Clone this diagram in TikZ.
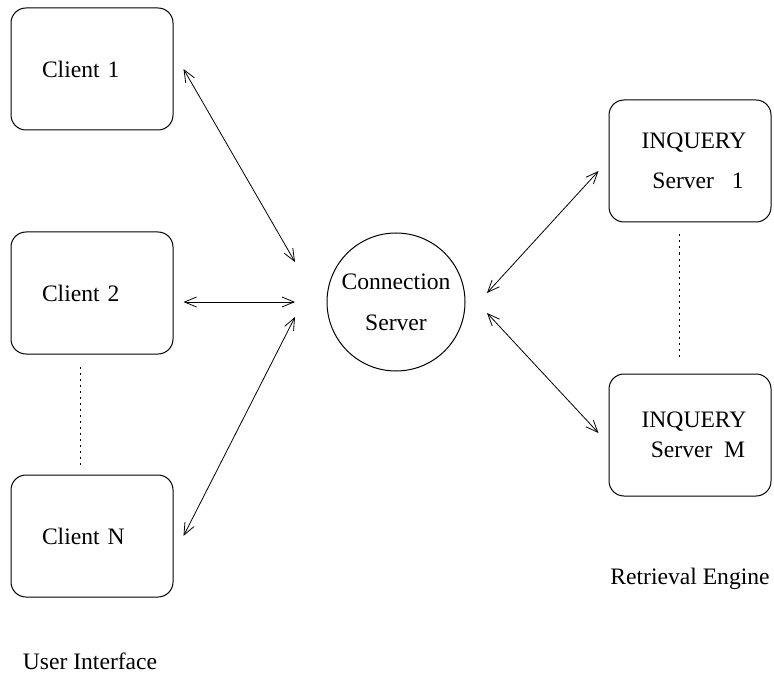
\documentclass[tikz,border=0pt]{standalone}
\usepackage{fontspec}
\setmainfont{Liberation Serif}
\usetikzlibrary{arrows.meta}

\begin{document}
\begin{tikzpicture}[
x=0.5pt, y=-0.5pt,
every node/.style={font=\fontsize{11.8pt}{14pt}\selectfont},
hostbox/.style={draw, rounded corners=7.5pt, minimum width=81pt, minimum height=61pt, line width=0.5pt},
clientbox/.style={hostbox, text width=50pt, align=left, inner xsep=15.5pt},
serverbox/.style={hostbox, align=center, inner sep=0pt},
link/.style={{Straight Barb[length=6pt,width=5pt]}-{Straight Barb[length=6pt,width=5pt]}, line width=0.4pt},
gap/.style={dash pattern=on 1pt off 2pt, line width=0.5pt}
]

\useasboundingbox (0,0) rectangle (774,673);

\path
(92, 69) node[clientbox] (c1) {Client 1}
(92, 293) node[clientbox] (c2) {Client 2}
(92, 536) node[clientbox] (cN) {Client N}
(396, 302) node[draw, circle, minimum size=69pt, align=center, inner sep=0pt, line width=0.5pt] (cs) {Connection\\[6.5pt]Server}
(690, 161) node[serverbox] (s1) {\hspace{4pt}INQUERY\\[6pt]\hspace{8pt}Server~~~1}
(690, 435) node[serverbox] (sM) {\hspace{4pt}INQUERY\\[1pt]\hspace{8pt}Server~~M}
(690, 579) node (re) {Retrieval Engine}
(90, 661) node (ui) {User Interface}
;

\draw[link] ([xshift=5pt]c1.east) -- ([xshift=-50.5pt,yshift=20pt]cs.center);
\draw[link] ([xshift=5pt,yshift=-4.5pt]c2.east) -- ([xshift=-50.5pt]cs.center);
\draw[link] ([xshift=5pt]cN.east) -- ([xshift=-50.5pt,yshift=-7.5pt]cs.center);
\draw[link] ([xshift=45.5pt,yshift=4.5pt]cs.center) -- ([xshift=-5pt,yshift=-5pt]s1.west);
\draw[link] ([xshift=45.5pt,yshift=-5.5pt]cs.center) -- ([xshift=-5pt,yshift=1pt]sM.west);

\draw[gap] ([xshift=-6pt,yshift=-6pt]c2.south) -- ([xshift=-6pt,yshift=5pt]cN.north) ;
\draw[gap] ([xshift=-5.5pt,yshift=-6pt]s1.south) -- ([xshift=-5.5pt,yshift=8.5pt]sM.north);

\end{tikzpicture}
\end{document}
